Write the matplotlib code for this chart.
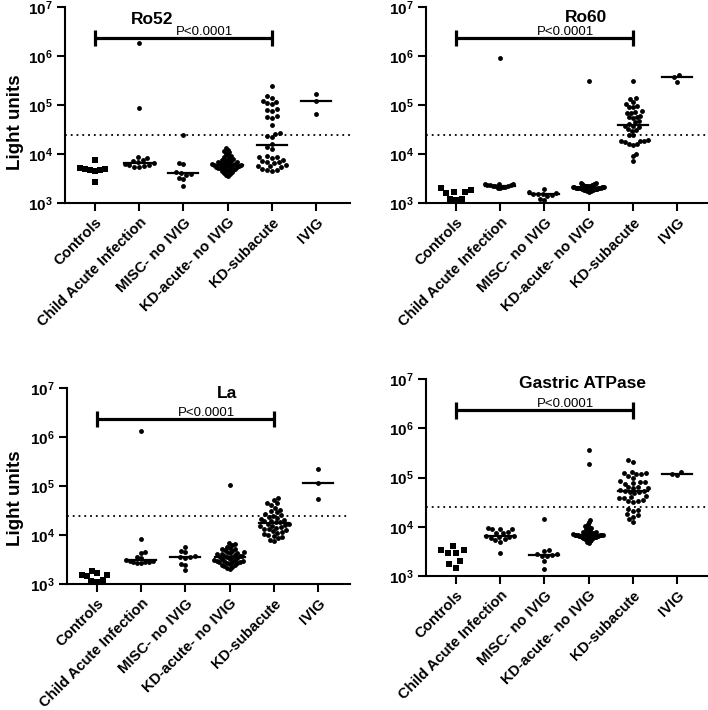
import numpy as np
import matplotlib
matplotlib.use('Agg')
import matplotlib.pyplot as plt

plt.rcParams['font.family'] = ['Liberation Sans', 'DejaVu Sans']
plt.rcParams['mathtext.fontset'] = 'custom'
plt.rcParams['mathtext.rm'] = 'Liberation Sans:bold'
plt.rcParams['mathtext.bf'] = 'Liberation Sans:bold'
plt.rcParams['mathtext.it'] = 'Liberation Sans:bold'

# groups along the x axis
groups = ['Controls', 'Child Acute Infection', 'MISC- no IVIG',
          'KD-acute- no IVIG', 'KD-subacute', 'IVIG']

# light units, one list per group
ro52_controls = [7500, 5200, 5000, 4900, 4800, 4700, 4600, 2650]
ro52_child = [1.8e6, 8.5e4, 8800, 8300, 7700, 7100, 6800, 6500, 6300, 6100, 5900, 5700, 5500, 5400]
ro52_misc = [24500, 6500, 6300, 4300, 4100, 3900, 3800, 3300, 3100, 2250]
ro52_kd_acute = [13000, 12200, 11500, 10800, 10200, 9600, 9100, 8700, 8300, 8000, 7700, 7500,
                 7300, 7100, 6900, 6800, 6600, 6500, 6400, 6300, 6200, 6100, 6000, 5900, 5900,
                 5800, 5700, 5600, 5500, 5500, 5400, 5300, 5200, 5100, 5000, 4900, 4800, 4700,
                 4500, 4400, 4200, 4100, 3900, 3700, 3550]
ro52_kd_sub = [2.46e5, 1.5e5, 1.4e5, 1.23e5, 1.15e5, 1.1e5, 1.05e5, 8.2e4, 8e4, 7.7e4, 5.9e4,
               5.7e4, 5.5e4, 3.85e4, 2.7e4, 2.6e4, 2.3e4, 2.2e4, 1.6e4, 1.4e4, 1.25e4, 9200,
               8800, 8500, 8200, 7400, 7100, 7000, 6900, 6600, 5900, 5700, 5600, 5400, 5000,
               4800, 4700, 4600]
ro52_ivig = [1.65e5, 1.22e5, 6.4e4]

ro60_controls = [2000, 1800, 1700, 1650, 1600, 1200, 1200, 1150]
ro60_child = [8.9e5, 2500, 2450, 2400, 2350, 2300, 2300, 2250, 2250, 2200, 2150, 2100, 2050, 2000]
ro60_misc = [1950, 1700, 1600, 1550, 1550, 1500, 1450, 1400, 1200, 1150]
ro60_kd_acute = [3.1e5, 2600, 2550, 2500, 2450, 2400, 2350, 2320, 2300, 2270, 2250, 2220, 2200,
                 2180, 2160, 2140, 2120, 2100, 2090, 2080, 2060, 2050, 2040, 2030, 2020, 2000,
                 1990, 1980, 1960, 1950, 1930, 1910, 1900, 1880, 1860, 1840, 1820, 1800, 1780,
                 1750, 1720, 1680]
ro60_kd_sub = [3.1e5, 1.37e5, 1.35e5, 1.15e5, 1.05e5, 9.5e4, 9.2e4, 9e4, 7.4e4, 7.2e4, 7e4,
               6.8e4, 6e4, 5.8e4, 5.6e4, 5.5e4, 4.8e4, 4.6e4, 4.1e4, 3.8e4, 3.7e4, 3.6e4, 3.2e4,
               3.1e4, 3.0e4, 2.5e4, 2.4e4, 1.9e4, 1.87e4, 1.85e4, 1.8e4, 1.75e4, 1.6e4, 1.58e4,
               1.55e4, 1.02e4, 9100, 7200]
ro60_ivig = [4.1e5, 3.65e5, 3.0e5]

la_controls = [1850, 1700, 1550, 1500, 1450, 1200, 1150, 1100]
la_child = [1.35e6, 8200, 4500, 4300, 3600, 3400, 3100, 3000, 2900, 2850, 2800, 2750, 2700, 2650]
la_misc = [5700, 4700, 4400, 3700, 3600, 3500, 3400, 2600, 2500, 1950]
la_kd_acute = [1.05e5, 6900, 6500, 6200, 5800, 5500, 5300, 5100, 4900, 4700, 4600, 4400, 4300,
               4200, 4100, 4000, 3900, 3800, 3700, 3650, 3600, 3550, 3500, 3400, 3300, 3200,
               3100, 3050, 3000, 2950, 2900, 2850, 2800, 2750, 2700, 2650, 2600, 2500, 2400,
               2300, 2200, 2100, 2050]
la_kd_sub = [5.6e4, 5.2e4, 4.6e4, 4.4e4, 4.0e4, 3.6e4, 3.3e4, 3.1e4, 2.9e4, 2.7e4, 2.6e4, 2.5e4,
             2.35e4, 2.25e4, 2.15e4, 2.05e4, 1.95e4, 1.9e4, 1.85e4, 1.8e4, 1.7e4, 1.65e4, 1.6e4,
             1.55e4, 1.5e4, 1.45e4, 1.4e4, 1.35e4, 1.3e4, 1.25e4, 1.2e4, 1.15e4, 1.1e4, 1.05e4,
             1.0e4, 9500, 9000, 8500, 8000, 7500]
la_ivig = [2.25e5, 1.17e5, 5.4e4]

gas_controls = [4100, 3400, 3300, 2900, 2900, 2000, 1750, 1450]
gas_child = [9400, 9200, 9000, 8800, 8000, 7600, 7400, 6500, 6400, 6300, 6200, 6000, 5600, 5300,
             5000, 3000]
gas_misc = [14100, 3400, 3200, 2800, 2750, 2650, 2600, 2500, 2050, 1380]
gas_kd_acute = [3.7e5, 1.9e5, 13700, 12500, 11500, 10500, 10000, 9500, 9000, 8600, 8300, 8000,
                7800, 7600, 7400, 7300, 7200, 7100, 7000, 6950, 6900, 6850, 6800, 6750, 6700,
                6650, 6600, 6550, 6500, 6450, 6400, 6350, 6300, 6200, 6100, 6000, 5900, 5800,
                5700, 5600, 5400, 5200, 4900, 4600]
gas_kd_sub = [2.3e5, 2.1e5, 1.3e5, 1.25e5, 1.22e5, 1.2e5, 1.18e5, 1.05e5, 1.0e5, 8.5e4, 8.2e4,
              8.0e4, 7.8e4, 7.5e4, 6.5e4, 6.3e4, 6.2e4, 6.0e4, 5.5e4, 5.4e4, 5.2e4, 5.1e4, 5.0e4,
              4.8e4, 4.2e4, 4.0e4, 3.9e4, 3.8e4, 3.5e4, 3.4e4, 3.3e4, 3.2e4, 2.3e4, 2.2e4, 2.1e4,
              1.8e4, 1.7e4, 1.6e4, 1.45e4, 1.26e4]
gas_ivig = [1.1e5, 1.2e5, 1.27e5]

ro52 = [ro52_controls, ro52_child, ro52_misc, ro52_kd_acute, ro52_kd_sub, ro52_ivig]
ro60 = [ro60_controls, ro60_child, ro60_misc, ro60_kd_acute, ro60_kd_sub, ro60_ivig]
la = [la_controls, la_child, la_misc, la_kd_acute, la_kd_sub, la_ivig]
gastric = [gas_controls, gas_child, gas_misc, gas_kd_acute, gas_kd_sub, gas_ivig]

cutoff = 2.5e4
sig_y = 2.3e6

PX_DEC = 49.0   # pixels per decade on the y axis
PX_CAT = 44.2   # pixels between groups


def swarm(vals, d=5.0, cap=0.35):
    # simple beeswarm, offsets in group units, squeezed to +-cap
    y = np.log10(vals) * PX_DEC
    placed = []
    xs = np.zeros(len(y))
    for i in np.argsort(y):
        cands = [0.0]
        for xj, yj in placed:
            dy = y[i] - yj
            if abs(dy) < d:
                dx = np.sqrt(d * d - dy * dy)
                cands += [xj - dx, xj + dx]
        cands.sort(key=abs)
        for c in cands:
            if all((c - xj) ** 2 + (y[i] - yj) ** 2 >= d * d - 1e-6 for xj, yj in placed):
                break
        xs[i] = c
        placed.append((c, y[i]))
    xs = xs / PX_CAT
    w = np.abs(xs).max()
    if w > cap:
        xs = xs * cap / w
    return xs


fig = plt.figure(figsize=(7.08, 7.10), dpi=100)

panels = [
    ('Ro52', ro52, [65, 203, 285, 196], 1.3, 6.65),
    ('Ro60', ro60, [426, 203, 282, 196], 2.93, 6.70),
    ('La', la, [67, 584, 283, 196], 2.93, 6.80),
    ('Gastric ATPase', gastric, [426, 576, 282, 197], 2.85, 6.82),
]

for title, data, (px, pb, pw, ph), tx, ty in panels:
    ax = fig.add_axes([px / 708, 1 - pb / 710, pw / 708, ph / 710])
    ax.set_yscale('log')
    ax.set_ylim(1e3, 1e7)
    ax.set_xlim(-0.68, -0.68 + pw / PX_CAT)

    for i, vals in enumerate(data):
        vals = np.array(vals, dtype=float)
        if i == 0:
            xoff = swarm(vals, d=8.0)
            ax.plot(i + xoff, vals, 's', color='black', ms=3.7, mew=0, zorder=3)
        else:
            xoff = swarm(vals)
            ax.plot(i + xoff, vals, 'o', color='black', ms=3.5, mew=0, zorder=3)
            med = np.median(vals)
            ax.plot([i - 0.34, i + 0.34], [med, med], color='black', lw=1.6, zorder=4)

    ax.axhline(cutoff, color='black', lw=1.3, ls=(0, (1, 2.2)), zorder=2)

    # significance bar between controls and KD-subacute
    ax.plot([0, 4], [sig_y, sig_y], color='black', lw=2.3, solid_capstyle='butt')
    for cx in (0, 4):
        ax.plot([cx, cx], [sig_y / 1.47, sig_y * 1.47], color='black', lw=2.3,
                solid_capstyle='butt')
    ax.text(2.48, 10 ** 6.43, 'P<0.0001', ha='center', va='baseline', fontsize=9.5)
    ax.text(tx, 10 ** ty, title, ha='center', va='baseline', fontsize=12.5,
            fontweight='bold')

    ax.spines['top'].set_visible(False)
    ax.spines['right'].set_visible(False)
    for s in ('left', 'bottom'):
        ax.spines[s].set_linewidth(1.5)
    ax.set_xticks(range(len(groups)))
    ax.set_xticklabels(groups, rotation=45, ha='right', rotation_mode='anchor',
                       fontsize=10.7, fontweight='bold')
    ax.set_yticks([1e3, 1e4, 1e5, 1e6, 1e7])
    ax.set_yticklabels([r'$\mathbf{10^{%d}}$' % k for k in range(3, 8)], fontsize=11)
    ax.minorticks_off()
    ax.tick_params(direction='out', length=6, width=1.5, pad=3)

fig.text(16 / 708, 1 - 122 / 710, 'Light units', rotation=90, ha='center', va='center',
         fontsize=13.5, fontweight='bold')
fig.text(16 / 708, 1 - 498 / 710, 'Light units', rotation=90, ha='center', va='center',
         fontsize=13.5, fontweight='bold')

fig.savefig('out.png', dpi=100)
